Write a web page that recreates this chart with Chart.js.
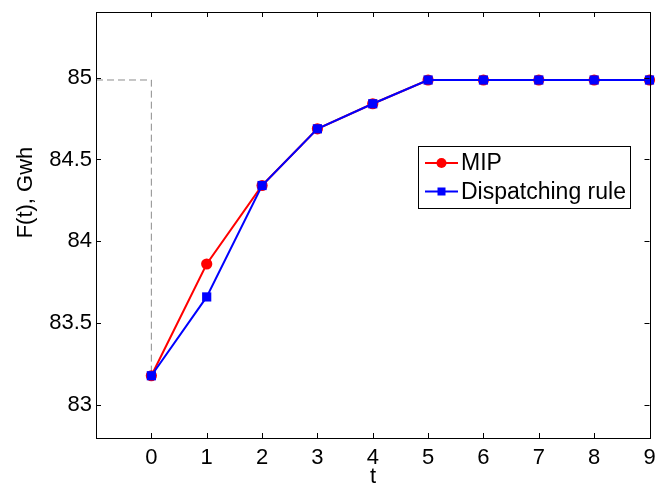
<!DOCTYPE html>
<html>
<head>
<meta charset="utf-8">
<script src="https://cdn.jsdelivr.net/npm/chart.js@4"></script>
<style>
html,body{margin:0;padding:0;background:#fff;}
#wrap{width:656px;height:485px;}
</style>
</head>
<body>
<div id="wrap"><canvas id="c" width="656" height="485"></canvas></div>
<script>
// ---- data ----
const tValues = [0, 1, 2, 3, 4, 5, 6, 7, 8, 9];
const mipValues = [83.18, 83.862, 84.341, 84.687, 84.84, 84.985, 84.985, 84.985, 84.985, 84.985];
const dispatchValues = [83.18, 83.661, 84.341, 84.687, 84.84, 84.985, 84.985, 84.985, 84.985, 84.985];
const refLineX = [-1, 0, 0];
const refLineY = [84.985, 84.985, 83.18];
const xTickLabels = [0, 1, 2, 3, 4, 5, 6, 7, 8, 9];
const yTickLabels = [83, 83.5, 84, 84.5, 85];
const seriesNames = ['MIP', 'Dispatching rule'];
const xTitle = 't';
const yTitle = 'F(t), Gwh';

const FONT = 'Liberation Sans, Arial, Helvetica, sans-serif';
const FS = 22;

const toPts = (xs, ys) => xs.map((x, i) => ({x: x, y: ys[i]}));

const framePlugin = {
  id: 'frame',
  afterDraw(chart) {
    const ctx = chart.ctx;
    const a = chart.chartArea;
    const xs = chart.scales.x, ys = chart.scales.y;
    ctx.save();
    ctx.strokeStyle = '#000';
    ctx.lineWidth = 1;
    // box
    ctx.strokeRect(Math.round(a.left) + 0.5, Math.round(a.top) + 0.5,
      Math.round(a.right - a.left), Math.round(a.bottom - a.top));
    // ticks inside
    const L = 5;
    ctx.beginPath();
    xTickLabels.forEach(v => {
      const px = Math.round(xs.getPixelForValue(v)) + 0.5;
      ctx.moveTo(px, a.bottom); ctx.lineTo(px, a.bottom - L);
      ctx.moveTo(px, a.top); ctx.lineTo(px, a.top + L);
    });
    yTickLabels.forEach(v => {
      const py = Math.round(ys.getPixelForValue(v)) + 0.5;
      ctx.moveTo(a.left, py); ctx.lineTo(a.left + L, py);
      ctx.moveTo(a.right, py); ctx.lineTo(a.right - L, py);
    });
    ctx.stroke();
    // axis titles
    ctx.fillStyle = '#000';
    ctx.font = FS + 'px ' + FONT;
    ctx.textAlign = 'center';
    ctx.textBaseline = 'alphabetic';
    ctx.fillText(xTitle, 373, 483);
    ctx.save();
    ctx.translate(32, 192.5);
    ctx.rotate(-Math.PI / 2);
    ctx.fillText(yTitle, 0, 0);
    ctx.restore();
    // legend box
    const bx = 418.5, by = 146.5, bw = 212, bh = 62;
    ctx.fillStyle = '#fff';
    ctx.fillRect(bx, by, bw, bh);
    ctx.strokeStyle = '#000';
    ctx.lineWidth = 1;
    ctx.strokeRect(bx, by, bw, bh);
    const rows = [163, 191.5];
    ctx.font = '23px ' + FONT;
    [1, 2].forEach((di, i) => {
      const ds = chart.data.datasets[di];
      const y = rows[i];
      ctx.strokeStyle = ds.borderColor;
      ctx.lineWidth = 1.8;
      ctx.beginPath();
      ctx.moveTo(425, y); ctx.lineTo(458, y);
      ctx.stroke();
      ctx.fillStyle = ds.backgroundColor;
      if (ds.pointStyle === 'rect') {
        ctx.fillRect(441.5 - 4, y - 4, 8, 8);
      } else {
        ctx.beginPath();
        ctx.arc(441.5, y, 5, 0, Math.PI * 2);
        ctx.fill();
      }
      ctx.fillStyle = '#000';
      ctx.textAlign = 'left';
      ctx.textBaseline = 'middle';
      ctx.fillText(ds.label, 461, y + 1);
    });
    ctx.restore();
  }
};

const zeroPad = s => { s.paddingLeft = 0; s.paddingRight = 0; s.paddingTop = 0; s.paddingBottom = 0; };

new Chart(document.getElementById('c'), {
  type: 'scatter',
  data: {
    datasets: [
      {
        label: 'ref',
        data: toPts(refLineX, refLineY),
        showLine: true,
        borderColor: '#8c8c8c',
        borderWidth: 1,
        borderDash: [7, 4],
        pointRadius: 0,
        fill: false,
        order: 3
      },
      {
        label: seriesNames[0],
        data: toPts(tValues, mipValues),
        showLine: true,
        borderColor: '#ff0000',
        backgroundColor: '#ff0000',
        borderWidth: 2,
        pointStyle: 'circle',
        pointRadius: 5.6,
        pointBorderWidth: 0,
        clip: false,
        order: 2
      },
      {
        label: seriesNames[1],
        data: toPts(tValues, dispatchValues),
        showLine: true,
        borderColor: '#0000ff',
        backgroundColor: '#0000ff',
        borderWidth: 2,
        pointStyle: 'rect',
        pointRadius: 6.5,
        pointBorderWidth: 0,
        clip: false,
        order: 1
      }
    ]
  },
  options: {
    responsive: false,
    animation: false,
    devicePixelRatio: 1,
    layout: {padding: {top: 12, right: 4, left: 0, bottom: 0}},
    plugins: {legend: {display: false}, tooltip: {enabled: false}},
    scales: {
      x: {
        type: 'linear', min: -1, max: 9,
        afterBuildTicks: s => { s.ticks = xTickLabels.map(v => ({value: v})); },
        afterFit: s => { s.height = 47; zeroPad(s); },
        grid: {display: false, drawTicks: false},
        border: {display: false},
        ticks: {color: '#000', font: {family: FONT, size: FS}, padding: 7, maxRotation: 0, autoSkip: false,
          callback: v => String(v)}
      },
      y: {
        type: 'linear', min: 82.8, max: 85.4,
        afterBuildTicks: s => { s.ticks = yTickLabels.map(v => ({value: v})); },
        afterFit: s => { s.width = 96; zeroPad(s); },
        grid: {display: false, drawTicks: false},
        border: {display: false},
        ticks: {color: '#000', font: {family: FONT, size: FS}, padding: 4, autoSkip: false,
          callback: v => String(v)}
      }
    }
  },
  plugins: [framePlugin]
});
</script>
</body>
</html>
